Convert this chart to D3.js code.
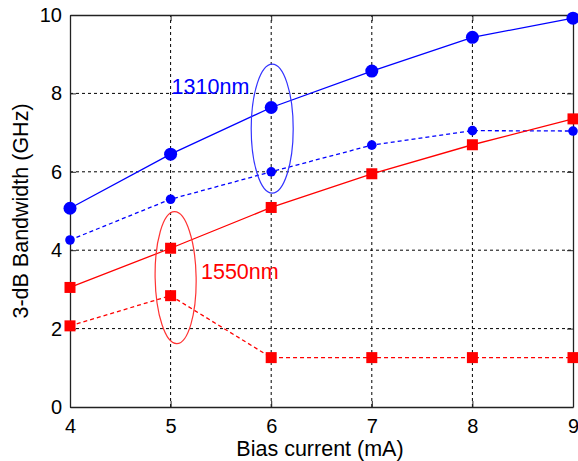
<!DOCTYPE html>
<html>
<head>
<meta charset="utf-8">
<script src="https://d3js.org/d3.v7.min.js"></script>
<style>
  body { margin: 0; background: #fff; }
  text { font-family: "Liberation Sans", Arial, sans-serif; }
</style>
</head>
<body>
<div id="chart"></div>
<script>
// donnees
var courant = [4, 5, 6, 7, 8, 9];
var bw1310plein = [5.07, 6.45, 7.64, 8.57, 9.43, 9.92];
var bw1310tiret = [4.26, 5.30, 6.00, 6.68, 7.05, 7.04];
var bw1550plein = [3.05, 4.05, 5.09, 5.95, 6.69, 7.35];
var bw1550tiret = [2.07, 2.84, 1.26, 1.26, 1.26, 1.26];
var ticksX = [4, 5, 6, 7, 8, 9];
var ticksY = [0, 2, 4, 6, 8, 10];

var W = 578, H = 461;
var x = d3.scaleLinear().domain([4, 9]).range([70, 573]);
var y = d3.scaleLinear().domain([0, 10]).range([407, 15]);

var svg = d3.select("#chart").append("svg").attr("width", W).attr("height", H);

// grille pointillee
svg.append("g").selectAll("line").data(ticksX.slice(1, -1)).join("line")
  .attr("x1", d => x(d)).attr("x2", d => x(d)).attr("y1", y(0)).attr("y2", y(10))
  .attr("stroke", "#000").attr("stroke-dasharray", "3,3");
svg.append("g").selectAll("line").data(ticksY.slice(1, -1)).join("line")
  .attr("y1", d => y(d)).attr("y2", d => y(d)).attr("x1", x(4)).attr("x2", x(9))
  .attr("stroke", "#000").attr("stroke-dasharray", "3,3");

// axes
var axeX = svg.append("g").attr("transform", "translate(0," + y(0) + ")")
  .call(d3.axisBottom(x).tickValues(ticksX).tickFormat(d3.format("d"))
    .tickSizeInner(-6).tickSizeOuter(0).tickPadding(12));
var axeY = svg.append("g").attr("transform", "translate(" + x(4) + ",0)")
  .call(d3.axisLeft(y).tickValues(ticksY).tickFormat(d3.format("d"))
    .tickSizeInner(-6).tickSizeOuter(0).tickPadding(8));
var axeHaut = svg.append("g").attr("transform", "translate(0," + y(10) + ")")
  .call(d3.axisTop(x).tickValues(ticksX).tickSizeInner(-6).tickSizeOuter(0).tickFormat(""));
var axeDroit = svg.append("g").attr("transform", "translate(" + x(9) + ",0)")
  .call(d3.axisRight(y).tickValues(ticksY).tickSizeInner(-6).tickSizeOuter(0).tickFormat(""));
[axeX, axeY, axeHaut, axeDroit].forEach(function(a) {
  a.select(".domain").attr("stroke", "#222").attr("stroke-width", 1.3);
  a.selectAll(".tick line").attr("stroke", "#222");
  a.selectAll("text").attr("font-size", 20).attr("fill", "#000")
   .attr("font-family", "Liberation Sans, Arial, sans-serif");
});

var ligne = d3.line().x(d => x(d[0])).y(d => y(d[1]));

function serie(vals, couleur, tiret, forme, taille) {
  var pts = courant.map((c, i) => [c, vals[i]]);
  svg.append("path").datum(pts).attr("d", ligne).attr("fill", "none")
    .attr("stroke", couleur).attr("stroke-width", 1.3)
    .attr("stroke-dasharray", tiret ? "4,3" : null);
  if (forme == "rond") {
    svg.append("g").selectAll("circle").data(pts).join("circle")
      .attr("cx", d => x(d[0])).attr("cy", d => y(d[1])).attr("r", taille)
      .attr("fill", couleur);
  } else {
    svg.append("g").selectAll("rect").data(pts).join("rect")
      .attr("x", d => x(d[0]) - taille).attr("y", d => y(d[1]) - taille)
      .attr("width", 2 * taille).attr("height", 2 * taille).attr("fill", couleur);
  }
}
serie(bw1310plein, "#0000ff", false, "rond", 6.5);
serie(bw1310tiret, "#0000ff", true, "rond", 4.8);
serie(bw1550plein, "#ff0000", false, "carre", 5.5);
serie(bw1550tiret, "#ff0000", true, "carre", 5.5);

// ellipses et annotations
svg.append("ellipse").attr("cx", x(6.01)).attr("cy", y(7.1)).attr("rx", 21).attr("ry", 64.5)
  .attr("fill", "none").attr("stroke", "#3333ff").attr("stroke-width", 1.2);
svg.append("ellipse").attr("cx", x(5.05)).attr("cy", y(3.3)).attr("rx", 20.5).attr("ry", 66)
  .attr("fill", "none").attr("stroke", "#ff3333").attr("stroke-width", 1.2)
  .attr("transform", "rotate(-1," + x(5.05) + "," + y(3.3) + ")");
svg.append("text").attr("x", x(5) + 1).attr("y", 94).attr("font-size", 21.5)
  .attr("fill", "#0000ff").text("1310nm");
svg.append("text").attr("x", 201).attr("y", 279).attr("font-size", 21.5)
  .attr("fill", "#ff0000").text("1550nm");

// titres
svg.append("text").attr("x", 320).attr("y", 456).attr("text-anchor", "middle")
  .attr("font-size", 21.5).text("Bias current (mA)");
svg.append("text").attr("transform", "translate(28,211) rotate(-90)")
  .attr("text-anchor", "middle").attr("font-size", 21.5).text("3-dB Bandwidth (GHz)");
</script>
</body>
</html>
